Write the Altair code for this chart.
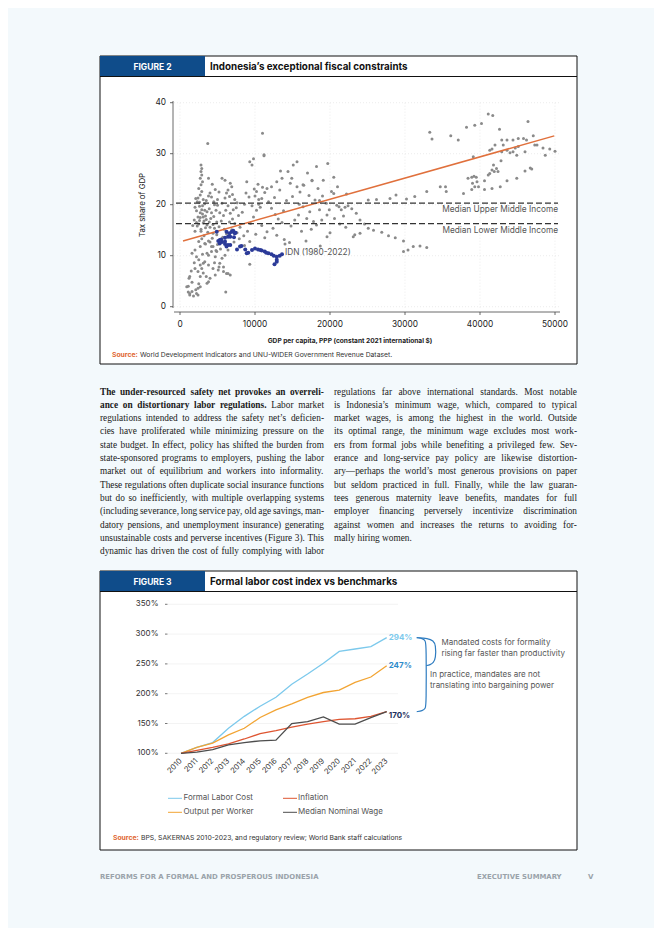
import altair as alt
import pandas as pd

M = 8  # page margin: page px -> canvas px


def P(v):
    return round(v - M, 2)


BG = "#F3F9FC"
SANS = "Inter"
SERIF = "Liberation Serif"
TAB = "#0F4C8A"
ACCENT = "#E0652E"

# ---------------- Figure 2 data (GDP per capita in thousands, tax % of GDP) -------------
grey_pts = [
    (0.9, 3.9), (1.1, 2.9), (1.3, 2.3), (1.8, 2.1), (2.2, 2.6), (2.4, 3.6), (2.7, 3.9), (1.2, 5.6),
    (1.6, 4.8), (2.4, 6.9), (2.9, 7.5), (2.2, 9.8), (3.1, 8.5), (3.8, 8.2), (4.4, 7.5), (4.7, 6.2),
    (4.0, 5.6), (3.6, 4.6), (5.1, 7.2), (5.3, 8.5), (5.8, 7.8), (6.2, 6.5), (6.7, 6.2), (6.1, 2.9),
    (1.6, 10.5), (2.0, 11.1), (2.7, 11.8), (3.3, 12.4), (4.0, 12.7), (3.6, 10.5), (4.2, 11.8),
    (4.9, 10.8), (4.7, 9.8), (5.6, 9.5), (6.0, 10.1), (1.3, 5.9), (2.0, 7.5), (2.7, 8.2), (3.3, 8.8),
    (3.8, 10.1), (4.2, 10.8), (4.4, 11.8), (2.7, 5.9), (3.1, 6.6), (3.5, 5.9), (3.8, 4.9), (2.5, 4.5),
    (1.1, 4.0), (1.6, 3.0), (2.1, 3.3), (1.3, 2.6), (2.4, 2.3), (6.4, 6.5), (5.8, 6.9), (5.2, 7.8),
    (4.6, 8.6), (3.0, 10.3), (2.5, 9.2), (1.9, 8.6), (1.5, 7.0),
    (2.8, 27.8), (2.9, 27.1), (2.8, 26.5), (2.9, 25.8), (2.7, 25.2), (3.0, 24.5), (2.8, 23.9),
    (2.5, 23.2), (2.9, 22.6), (2.7, 21.9), (2.4, 21.3), (3.1, 21.0), (2.3, 20.6), (3.3, 20.2),
    (2.6, 19.7), (2.9, 19.0), (3.0, 18.2), (2.7, 17.5), (3.2, 16.8), (2.5, 16.2), (3.4, 15.5),
    (2.8, 14.8), (3.7, 32.0), (3.8, 25.2), (4.0, 22.3), (5.6, 25.2), (6.0, 24.8), (6.7, 24.2),
    (6.9, 23.5), (6.4, 22.9), (6.2, 22.3), (6.0, 21.3), (6.6, 21.6), (7.0, 22.0), (7.3, 21.0),
    (7.6, 20.4), (8.9, 24.5), (9.3, 28.4), (9.8, 29.0), (9.6, 27.8), (10.2, 22.6), (10.0, 21.7),
    (10.5, 21.0), (11.0, 34.0), (11.2, 29.6), (4.3, 24.0), (4.7, 23.0), (5.2, 22.5), (5.0, 21.0),
    (4.6, 20.0),
    (2.0, 19.5), (2.2, 18.8), (2.4, 17.6), (2.6, 16.9), (2.3, 15.8), (2.8, 15.2), (3.1, 16.4),
    (3.4, 17.8), (3.6, 18.6), (3.9, 19.2), (4.1, 17.3), (4.4, 16.1), (4.6, 15.4), (3.7, 14.6),
    (3.2, 13.9), (2.9, 13.3), (4.9, 14.1), (5.2, 15.7), (5.5, 16.8), (5.8, 17.9), (6.1, 18.9),
    (6.4, 19.8), (6.7, 18.3), (7.0, 17.2), (7.3, 16.3), (6.9, 15.1), (7.6, 14.5), (8.0, 15.6),
    (7.8, 17.9), (7.5, 19.4), (8.3, 18.5), (8.6, 20.1), (5.0, 19.9), (4.5, 20.6), (4.2, 21.5),
    (3.5, 20.8), (3.0, 19.8), (2.6, 20.5), (2.1, 21.2), (1.9, 17.0), (1.7, 15.9), (2.0, 14.8),
    (2.5, 12.8), (3.8, 12.9), (4.3, 13.4), (5.0, 12.2), (5.7, 13.6), (6.2, 14.3), (5.4, 11.3),
    (4.8, 11.0), (6.4, 11.1), (7.2, 12.7), (7.9, 13.3), (8.5, 13.9), (9.0, 14.8), (9.4, 16.3),
    (9.8, 17.6), (10.2, 18.9), (10.5, 20.1), (10.9, 21.2), (11.3, 22.4), (10.7, 19.5), (9.6, 19.8),
    (9.2, 21.5), (8.8, 22.3), (9.9, 23.1), (10.4, 24.0), (11.0, 23.4), (11.8, 20.6), (12.2, 19.3),
    (12.7, 18.1), (13.1, 17.2), (13.6, 16.5), (12.4, 15.4), (11.6, 14.7), (10.9, 15.9), (10.1, 14.2),
    (9.3, 12.8), (8.6, 12.0), (11.3, 13.5), (12.9, 14.0), (13.9, 13.2), (14.6, 12.6), (9.3, 8.3),
    (3.3, 18.9), (3.5, 17.1), (3.9, 16.6), (4.2, 18.4), (4.8, 18.9), (4.0, 15.6), (3.6, 16.0),
    (3.1, 17.6), (4.5, 17.7), (5.3, 18.4), (5.6, 20.3), (2.7, 18.4), (2.2, 16.5), (3.8, 21.7),
    (4.9, 16.6), (5.9, 15.2), (6.6, 16.6), (7.1, 19.0), (3.4, 12.3), (4.4, 14.4),
    (14.4, 26.5), (15.1, 27.8), (15.6, 28.4), (13.6, 25.2), (12.9, 24.5), (12.2, 23.5), (11.6, 23.2),
    (13.3, 22.9), (14.7, 24.2), (15.6, 23.5), (16.4, 23.9), (17.6, 24.8), (18.4, 23.2), (19.1, 24.8),
    (16.4, 19.6), (15.8, 18.0), (16.9, 17.3), (17.8, 16.7), (18.2, 16.0), (18.9, 17.0), (19.6, 18.0),
    (20.9, 19.9), (21.5, 19.0), (22.0, 19.5), (22.4, 19.8), (22.9, 19.2), (23.5, 18.3), (21.3, 16.2),
    (22.1, 15.6), (23.3, 14.1), (19.6, 13.7), (18.7, 11.9), (20.0, 14.5), (14.2, 20.8), (15.0, 21.6),
    (16.0, 22.5), (17.2, 21.8), (18.0, 20.9), (19.0, 21.7), (20.2, 22.6), (21.0, 23.5), (22.2, 22.1),
    (17.0, 26.2), (18.2, 27.5), (19.7, 28.1), (20.5, 25.4), (16.2, 14.8), (17.5, 15.2), (14.8, 15.8),
    (15.3, 17.0), (13.8, 18.8), (12.6, 21.4), (20.6, 17.3), (21.8, 17.8), (24.0, 17.0), (24.6, 16.2),
    (19.5, 20.3), (18.6, 19.0), (17.3, 18.6), (15.9, 20.1), (14.0, 12.3), (16.8, 12.9), (11.2, 29.8),
    (13.4, 26.6), (14.9, 25.2), (16.5, 23.8), (17.6, 24.7), (20.5, 22.2), (21.2, 19.6), (19.9, 19.0),
    (18.6, 20.8),
    (23.1, 13.7), (24.0, 14.4), (25.1, 15.4), (25.8, 15.0), (26.9, 14.6), (27.8, 13.9), (28.7, 13.5),
    (29.8, 12.9), (29.8, 10.8), (30.4, 11.1), (31.1, 11.8), (32.0, 11.9), (32.9, 11.6), (25.1, 20.9),
    (26.2, 21.0), (28.0, 21.2), (28.8, 21.9), (30.2, 21.1), (31.3, 21.6), (32.9, 22.6), (34.7, 23.5),
    (35.4, 23.5), (35.5, 22.6), (37.8, 22.2), (38.4, 25.2), (38.9, 25.4), (39.2, 25.6), (39.5, 25.4),
    (39.6, 24.5), (39.0, 24.2), (39.3, 23.5), (39.8, 23.5), (38.9, 23.0), (40.6, 24.7), (40.6, 23.0),
    (41.1, 25.8), (41.3, 26.1), (41.6, 26.8), (41.8, 27.8), (41.9, 26.5), (42.2, 27.1), (42.4, 26.5),
    (42.7, 23.5), (41.6, 23.2), (43.6, 24.7), (44.9, 25.2), (46.0, 26.6), (46.7, 27.2), (46.9, 27.0),
    (41.3, 30.7), (41.6, 30.9), (42.8, 28.6), (42.9, 32.7), (43.1, 31.7), (43.6, 32.7), (44.4, 32.7),
    (45.1, 33.0), (45.8, 33.0), (46.4, 36.3), (47.1, 33.5), (46.2, 32.7), (47.3, 31.7), (47.6, 31.7),
    (48.4, 31.1), (48.7, 29.7), (49.3, 30.9), (50.0, 30.5), (46.0, 30.4), (44.9, 29.7), (44.0, 30.2),
    (44.4, 30.4), (44.7, 31.1), (45.1, 31.4), (43.6, 30.7), (42.9, 30.4), (42.0, 31.7), (39.1, 29.4),
    (33.3, 34.2), (33.6, 32.9), (36.1, 33.5), (37.1, 32.7), (38.2, 35.2), (39.3, 35.6), (40.2, 35.9),
    (41.1, 37.8), (41.7, 37.5), (42.6, 34.8),
]
grey_gdp = [p[0] for p in grey_pts]
grey_tax = [p[1] for p in grey_pts]

idn_pts = [
    (5.1, 12.9), (5.3, 12.4), (5.6, 12.7), (6.0, 12.3), (6.2, 11.8), (6.7, 12.1), (6.4, 13.7),
    (6.7, 13.7), (6.9, 14.7), (7.1, 14.9), (7.4, 14.5), (7.2, 13.6), (6.0, 13.5), (5.5, 13.2),
    (4.9, 14.7), (5.3, 13.1), (6.2, 14.7), (6.6, 14.4), (7.3, 14.4), (6.0, 12.8), (6.4, 12.1),
    (7.6, 11.2), (8.0, 11.8), (8.2, 11.9), (8.7, 11.2), (8.9, 10.5), (9.1, 10.6), (9.6, 11.1),
    (10.0, 11.4), (10.4, 11.2), (10.9, 11.0), (11.3, 10.8), (11.8, 10.5), (12.2, 10.3), (12.5, 10.0),
    (12.9, 9.8), (12.9, 9.2), (12.9, 8.8), (12.6, 8.3), (13.6, 10.3), (13.3, 10.0), (11.5, 10.6),
    (10.7, 11.1),
]
idn_gdp = [p[0] for p in idn_pts]
idn_tax = [p[1] for p in idn_pts]

fit_gdp = [0.4, 49.9]
fit_tax = [12.9, 33.5]
median_names = ["Median Upper Middle Income", "Median Lower Middle Income"]
median_tax = [20.3, 16.3]
x2_ticks = [0, 10, 20, 30, 40, 50]
x2_labels = ["0", "10000", "20000", "30000", "40000", "50000"]
y2_ticks = [0, 10, 20, 30, 40]

# ---------------- Figure 3 data ----------------
years = list(range(2010, 2024))
formal_cost = [100, 110, 118, 142, 162, 179, 194, 216, 233, 251, 271, 275, 279, 294]
output_worker = [100, 110, 117, 131, 142, 160, 173, 183, 194, 202, 206, 219, 228, 247]
inflation = [100, 105, 110, 116, 124, 133, 138, 144, 149, 153, 157, 158, 162, 170]
median_wage = [100, 102, 106, 114, 118, 121, 122, 150, 153, 161, 149, 149, 160, 170]
series_names = ["Formal Labor Cost", "Output per Worker", "Inflation", "Median Nominal Wage"]
series_colors = ["#7CC9EC", "#F2A433", "#DE5531", "#4D4D4D"]
y3_ticks = [100, 150, 200, 250, 300, 350]

# ---------------- body text ----------------
left_lines = [
    "The under-resourced safety net provokes an overreli-",
    "ance on distortionary labor regulations. Labor market",
    "regulations intended to address the safety net\u2019s deficien-",
    "cies have proliferated while minimizing pressure on the",
    "state budget. In effect, policy has shifted the burden from",
    "state-sponsored programs to employers, pushing the labor",
    "market out of equilibrium and workers into informality.",
    "These regulations often duplicate social insurance functions",
    "but do so inefficiently, with multiple overlapping systems",
    "(including severance, long service pay, old age savings, man-",
    "datory pensions, and unemployment insurance) generating",
    "unsustainable costs and perverse incentives (Figure 3). This",
    "dynamic has driven the cost of fully complying with labor",
]
left_bold_words = [7, 5]  # leading bold words on the first lines
right_lines = [
    "regulations far above international standards. Most notable",
    "is Indonesia\u2019s minimum wage, which, compared to typical",
    "market wages, is among the highest in the world. Outside",
    "its optimal range, the minimum wage excludes most work-",
    "ers from formal jobs while benefiting a privileged few. Sev-",
    "erance and long-service pay policy are likewise distortion-",
    "ary\u2014perhaps the world\u2019s most generous provisions on paper",
    "but seldom practiced in full. Finally, while the law guaran-",
    "tees generous maternity leave benefits, mandates for full",
    "employer financing perversely incentivize discrimination",
    "against women and increases the returns to avoiding for-",
    "mally hiring women.",
]

# Times-compatible advance widths (Liberation Serif), 1/1000 em
REG_W = dict(zip("abcdefghijklmnopqrstuvwxyz",
                 [444, 500, 444, 500, 444, 333, 500, 500, 278, 278, 500, 278, 778, 500, 500, 500, 500,
                  333, 389, 278, 500, 500, 722, 500, 500, 444]))
REG_W.update(dict(zip("ABCDEFGHIJKLMNOPQRSTUVWXYZ",
                      [722, 667, 667, 722, 611, 556, 722, 722, 333, 389, 722, 611, 889, 722, 722, 556, 722,
                       667, 556, 611, 722, 722, 944, 722, 722, 611])))
REG_W.update({" ": 250, ",": 250, ".": 250, "-": 333, "(": 333, ")": 333, "\u2019": 333, "\u2014": 1000,
              ":": 278, ";": 278})
for d in "0123456789":
    REG_W[d] = 500
BOLD_W = dict(zip("abcdefghijklmnopqrstuvwxyz",
                  [500, 556, 444, 556, 444, 333, 500, 556, 278, 333, 556, 278, 833, 556, 500, 556, 556,
                   444, 389, 333, 556, 500, 722, 500, 500, 444]))
BOLD_W.update({"T": 667, "L": 667, " ": 250, ",": 250, ".": 250, "-": 333})


def word_w(w, bold, size):
    tbl = BOLD_W if bold else REG_W
    return sum(tbl.get(c, 500) for c in w) / 1000.0 * size


FS = 9.3
LH = 13.33
BASE = 394.5


def justify(lines, x0, x1, bold_counts, last_ragged):
    rows = []
    for i, line in enumerate(lines):
        words = line.split(" ")
        nb = bold_counts[i] if i < len(bold_counts) else 0
        flags = [j < nb for j in range(len(words))]
        widths = [word_w(w, b, FS) for w, b in zip(words, flags)]
        if last_ragged and i == len(lines) - 1:
            gap = 250 / 1000.0 * FS
        else:
            gap = ((x1 - x0) - sum(widths)) / max(len(words) - 1, 1)
        x = x0
        for w, b, wd in zip(words, flags, widths):
            rows.append({"w": w, "x": P(x), "y": P(BASE + i * LH), "bold": b})
            x += wd + gap
    return rows


word_rows = justify(left_lines, 100, 324, left_bold_words, False) + \
    justify(right_lines, 334, 577, [], True)
words_df = pd.DataFrame(word_rows)

one = pd.DataFrame({"k": [0]})


def rect(x1, y1, x2, y2, fill, stroke=None, sw=1.0):
    kw = dict(fill=fill)
    if stroke:
        kw["stroke"] = stroke
        kw["strokeWidth"] = sw
    return alt.Chart(one).mark_rect(**kw).encode(
        x=alt.value(P(x1)), x2=alt.value(P(x2)), y=alt.value(P(y1)), y2=alt.value(P(y2)))


def hline(x1, x2, y, color, sw=1.0):
    return alt.Chart(one).mark_rule(color=color, strokeWidth=sw).encode(
        x=alt.value(P(x1)), x2=alt.value(P(x2)), y=alt.value(P(y)))


def text(x, y, s, size, color="#222222", weight="normal", align="left", baseline="middle",
         font=SANS, angle=0, line_height=None):
    kw = dict(font=font, fontSize=size, fontWeight=weight, color=color, align=align, baseline=baseline)
    if angle:
        kw["angle"] = angle
    if line_height:
        kw["lineHeight"] = line_height
    return alt.Chart(one).mark_text(**kw).encode(
        x=alt.value(P(x)), y=alt.value(P(y)), text=alt.value(s))


FOOT = "#9AA3AA"
deco = [
    # Figure 2 frame
    rect(100, 56, 577, 364, "white", "#111111", 1),
    rect(100, 56, 205, 76.5, TAB),
    hline(100, 577, 76.5, "#111111", 1),
    text(152.5, 66.5, "FIGURE 2", 8.5, "white", "bold", "center"),
    text(210, 66.5, "Indonesia\u2019s exceptional fiscal constraints", 9.8, "#111111", "bold"),
    text(112, 354.5, "Source:", 6.8, ACCENT, "bold"),
    text(140, 354.5, "World Development Indicators and UNU-WIDER Government Revenue Dataset.", 6.8, "#333333"),
    # Figure 3 frame
    rect(100, 571, 577, 850, "white", "#111111", 1),
    rect(100, 571, 205, 591.5, TAB),
    hline(100, 577, 591.5, "#111111", 1),
    text(152.5, 581.5, "FIGURE 3", 8.5, "white", "bold", "center"),
    text(210, 581.5, "Formal labor cost index vs benchmarks", 9.8, "#111111", "bold"),
    text(113, 837.7, "Source:", 6.8, ACCENT, "bold"),
    text(141, 837.7, "BPS, SAKERNAS 2010-2023, and regulatory review; World Bank staff calculations", 6.8, "#333333"),
    # footer
    text(100, 877, "REFORMS FOR A FORMAL AND PROSPEROUS INDONESIA", 6.9, FOOT, "bold", font="DejaVu Sans"),
    text(477, 877, "EXECUTIVE SUMMARY", 6.9, FOOT, "bold", font="DejaVu Sans"),
    text(588, 877, "V", 7, FOOT, "bold", font="DejaVu Sans"),
]

body = [
    alt.Chart(words_df).transform_filter("datum.bold").mark_text(
        font=SERIF, fontSize=FS, fontWeight="bold", color="#1a1a1a", align="left", baseline="alphabetic").encode(
        x=alt.X("x:Q", scale=None, axis=None), y=alt.Y("y:Q", scale=None, axis=None), text="w:N"),
    alt.Chart(words_df).transform_filter("!datum.bold").mark_text(
        font=SERIF, fontSize=FS, color="#1a1a1a", align="left", baseline="alphabetic").encode(
        x=alt.X("x:Q", scale=None, axis=None), y=alt.Y("y:Q", scale=None, axis=None), text="w:N"),
]

# ---------------- Figure 2 chart ----------------
xs2 = alt.Scale(domain=[0, 50], range=[P(180), P(555)], nice=False, zero=False)
ys2 = alt.Scale(domain=[0, 40], range=[P(306.7), P(102.7)], nice=False, zero=False)
X2 = lambda f: alt.X(f, type="quantitative", scale=xs2, axis=None)
Y2 = lambda f: alt.Y(f, type="quantitative", scale=ys2, axis=None)

xt2 = pd.DataFrame({"v": x2_ticks, "lab": x2_labels})
yt2 = pd.DataFrame({"v": y2_ticks, "lab": [str(t) for t in y2_ticks]})
grey_df = pd.DataFrame({"gdp": grey_gdp, "tax": grey_tax})
idn_df = pd.DataFrame({"gdp": idn_gdp, "tax": idn_tax})
fit_df = pd.DataFrame({"gdp": fit_gdp, "tax": fit_tax})
med_df = pd.DataFrame({"name": median_names, "tax": median_tax})

f2 = alt.layer(
    alt.Chart(xt2).mark_rule(color="#E4E4E4", strokeWidth=0.7, strokeDash=[1, 2]).encode(
        x=X2("v"), y=alt.value(P(102.7)), y2=alt.value(P(309))),
    alt.Chart(yt2).mark_rule(color="#E4E4E4", strokeWidth=0.7, strokeDash=[1, 2]).encode(
        y=Y2("v"), x=alt.value(P(174)), x2=alt.value(P(560))),
    alt.Chart(one).mark_rule(color="#444444", strokeWidth=0.8).encode(
        x=alt.value(P(174)), x2=alt.value(P(560)), y=alt.value(P(312))),
    alt.Chart(one).mark_rule(color="#444444", strokeWidth=0.8).encode(
        x=alt.value(P(173)), y=alt.value(P(101)), y2=alt.value(P(308))),
    alt.Chart(xt2).mark_rule(color="#444444", strokeWidth=0.8).encode(
        x=X2("v"), y=alt.value(P(312)), y2=alt.value(P(315))),
    alt.Chart(xt2).mark_text(font=SANS, fontSize=8.3, color="#222222", baseline="middle").encode(
        x=X2("v"), y=alt.value(P(325)), text="lab:N"),
    alt.Chart(yt2).mark_rule(color="#444444", strokeWidth=0.8).encode(
        y=Y2("v"), x=alt.value(P(170)), x2=alt.value(P(173))),
    alt.Chart(yt2).mark_text(font=SANS, fontSize=8.3, color="#222222", align="right", baseline="middle").encode(
        y=Y2("v"), x=alt.value(P(166)), text="lab:N"),
    alt.Chart(grey_df).mark_circle(size=9, color="#8A8A8A", opacity=1).encode(x=X2("gdp"), y=Y2("tax")),
    alt.Chart(fit_df).mark_line(color="#E0703C", strokeWidth=1.5).encode(x=X2("gdp"), y=Y2("tax")),
    alt.Chart(idn_df).mark_circle(size=16, color="#2B3A98", opacity=1).encode(x=X2("gdp"), y=Y2("tax")),
    alt.Chart(med_df).mark_rule(color="#333333", strokeWidth=1.2, strokeDash=[6, 3]).encode(
        y=Y2("tax"), x=alt.value(P(176)), x2=alt.value(P(558))),
    alt.Chart(med_df).mark_text(font=SANS, fontSize=8.3, color="#555555", align="right", baseline="top", dy=2).encode(
        y=Y2("tax"), x=alt.value(P(558)), text="name:N"),
    text(285, 253, "IDN (1980-2022)", 8.3, "#555555"),
    text(143, 205, "Tax share of GDP", 7.8, "#222222", align="center", angle=270),
    text(350, 341, "GDP per capita, PPP (constant 2021 international $)", 6.6, "#222222", "bold", "center"),
)

# ---------------- Figure 3 chart ----------------
xs3 = alt.Scale(domain=[2010, 2023], range=[P(181), P(386.7)], nice=False, zero=False)
ys3 = alt.Scale(domain=[100, 350], range=[P(753.3), P(604.3)], nice=False, zero=False)
X3 = lambda f: alt.X(f, type="quantitative", scale=xs3, axis=None)
Y3 = lambda f: alt.Y(f, type="quantitative", scale=ys3, axis=None)

long_rows = []
for name, vals in zip(series_names, [formal_cost, output_worker, inflation, median_wage]):
    for yr, v in zip(years, vals):
        long_rows.append({"series": name, "year": yr, "value": v})
lines_df = pd.DataFrame(long_rows)
yt3 = pd.DataFrame({"v": y3_ticks, "lab": [f"{t}%" for t in y3_ticks]})
xt3 = pd.DataFrame({"v": years, "lab": [str(y) for y in years]})

end_top, end_mid, end_bot = formal_cost[-1], output_worker[-1], median_wage[-1]
end_df = pd.DataFrame({
    "year": [years[-1]] * 2,
    "value": [end_top, end_mid],
    "lab": [f"{end_top}%", f"{end_mid}%"],
    "col": ["#7CC9EC", "#2E8BCB"],
})
end_bot_df = pd.DataFrame({"year": [years[-1]], "value": [end_bot], "lab": [f"{end_bot}%"]})

small_brace = pd.DataFrame({
    "o": list(range(8)),
    "year": [2024.9, 2025.6, 2025.95, 2026.1, 2026.1, 2025.95, 2025.75, 2025.5],
    "value": [end_top, end_top - 1, end_top - 5, end_top - 12, end_mid + 12, end_mid + 5, end_mid + 1.5, end_mid],
})
large_brace = pd.DataFrame({
    "o": list(range(8)),
    "year": [2024.9, 2025.25, 2025.45, 2025.5, 2025.5, 2025.45, 2025.25, 2024.9],
    "value": [end_top, end_top - 1, end_top - 5, end_top - 12, end_bot + 12, end_bot + 5, end_bot + 1, end_bot],
})
BRACE = "#2E7CC0"

f3 = alt.layer(
    alt.Chart(yt3).mark_rule(color="#F0F0F0", strokeWidth=0.8).encode(
        y=Y3("v"), x=alt.value(P(168)), x2=alt.value(P(398))),
    alt.Chart(yt3).mark_text(font=SANS, fontSize=8, color="#333333", align="right", baseline="middle").encode(
        y=Y3("v"), x=alt.value(P(158.5)), text="lab:N"),
    alt.Chart(yt3).mark_rule(color="#555555", strokeWidth=0.8).encode(
        y=Y3("v"), x=alt.value(P(165)), x2=alt.value(P(167.5))),
    alt.Chart(xt3).mark_text(font=SANS, fontSize=7.6, color="#333333", align="right", baseline="middle", angle=315).encode(
        x=X3("v"), y=alt.value(P(760)), text="lab:N"),
    alt.Chart(lines_df).mark_line(strokeWidth=1.3).encode(
        x=X3("year"), y=Y3("value"),
        color=alt.Color("series:N", scale=alt.Scale(domain=series_names, range=series_colors), legend=None),
        detail="series:N"),
    alt.Chart(end_df).mark_text(font=SANS, fontSize=8, fontWeight="bold", align="left", baseline="middle", dx=2).encode(
        x=X3("year"), y=Y3("value"), text="lab:N", color=alt.Color("col:N", scale=None)),
    alt.Chart(end_bot_df).mark_text(font=SANS, fontSize=8, fontWeight="bold", align="left", baseline="middle",
                                    dx=2, dy=4, color="#1C2F5C").encode(
        x=X3("year"), y=Y3("value"), text="lab:N"),
    alt.Chart(small_brace).mark_line(color=BRACE, strokeWidth=1.2, interpolate="basis").encode(
        x=X3("year"), y=Y3("value"), order="o:Q"),
    alt.Chart(large_brace).mark_line(color=BRACE, strokeWidth=1.2, interpolate="basis").encode(
        x=X3("year"), y=Y3("value"), order="o:Q"),
    text(441.5, 643.3, ["Mandated costs for formality", "rising far faster than productivity"], 8, "#555555",
         baseline="middle", line_height=11),
    text(430, 675, ["In practice, mandates are not", "translating into bargaining power"], 8, "#555555",
         baseline="middle", line_height=10.7),
    hline(168, 182, 798.3, series_colors[0], 1),
    hline(168, 182, 812.3, series_colors[1], 1),
    hline(283, 297, 798.3, series_colors[2], 1),
    hline(283, 297, 812.3, series_colors[3], 1),
    text(183.5, 798.3, series_names[0], 8, "#555555"),
    text(183.5, 812.3, series_names[1], 8, "#555555"),
    text(298, 798.3, series_names[2], 8, "#555555"),
    text(298, 812.3, series_names[3], 8, "#555555"),
)

chart = alt.layer(*deco, *body, f2, f3).resolve_scale(
    x="independent", y="independent", color="independent"
).properties(
    width=646, height=920, padding=0,
    autosize=alt.AutoSizeParams(type="none"),
    background=BG,
).configure_view(stroke="transparent")

chart.save("out.html", embed_options={"renderer": "svg", "actions": False})
